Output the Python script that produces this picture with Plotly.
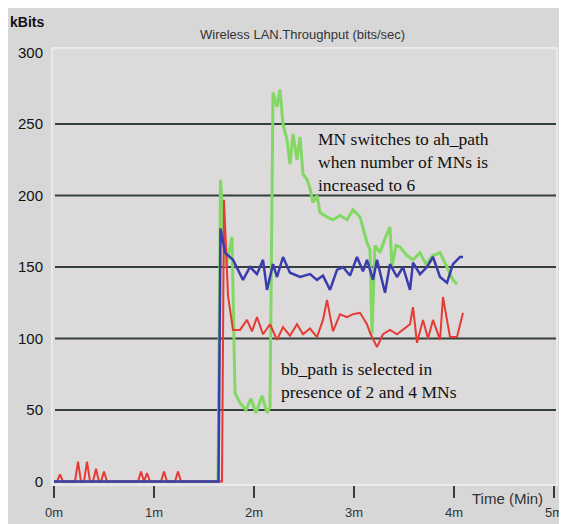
import plotly.graph_objects as go

# ---------------- data (time in minutes, throughput in kBits) ----------------
green_t = [0.00, 1.64, 1.665, 1.72, 1.78, 1.81, 1.86, 1.92, 1.97, 2.02, 2.08, 2.13, 2.16,
           2.19, 2.23, 2.26, 2.29, 2.33, 2.36, 2.39, 2.43, 2.46, 2.49, 2.53, 2.56, 2.59,
           2.63, 2.66, 2.73, 2.79, 2.86, 2.93, 2.99, 3.06, 3.13, 3.16, 3.18, 3.21, 3.26,
           3.31, 3.36, 3.38, 3.42, 3.46, 3.53, 3.59, 3.66, 3.72, 3.79, 3.86, 3.93, 3.99, 4.03]
green_v = [0, 0, 211, 150, 171, 62, 55, 50, 58, 48, 60, 48, 52,
           272, 262, 274, 250, 239, 222, 243, 225, 241, 215, 211, 205, 195,
           200, 188, 185, 183, 186, 183, 190, 185, 167, 162, 103, 165, 160,
           170, 178, 150, 165, 164, 158, 155, 160, 152, 158, 160, 150, 141, 138]

red_t = [0.00, 0.03, 0.06, 0.09, 0.21, 0.24, 0.27, 0.30, 0.33, 0.36, 0.39, 0.42, 0.45,
         0.47, 0.50, 0.53, 0.84, 0.87, 0.90, 0.93, 0.96, 1.07, 1.10, 1.13, 1.21, 1.24,
         1.27, 1.68,
         1.70, 1.74, 1.79, 1.86, 1.93, 1.98, 2.03, 2.09, 2.16, 2.23, 2.29, 2.36, 2.43,
         2.49, 2.56, 2.63, 2.69, 2.73, 2.79, 2.86, 2.93, 2.99, 3.06, 3.13, 3.16, 3.23,
         3.29, 3.36, 3.43, 3.49, 3.56, 3.59, 3.63, 3.69, 3.74, 3.79, 3.86, 3.89, 3.96,
         4.03, 4.09]
red_v = [0, 0, 5, 0, 0, 14, 0, 0, 14, 0, 0, 9, 0,
         0, 7, 0, 0, 7, 0, 6, 0, 0, 7, 0, 0, 7,
         0, 0,
         197, 130, 106, 106, 113, 105, 115, 103, 110, 99, 108, 102, 110,
         103, 107, 101, 113, 127, 105, 117, 115, 117, 118, 110, 104, 94,
         103, 106, 103, 106, 110, 122, 97, 113, 100, 113, 99, 129, 101,
         101, 118]

blue_t = [0.00, 1.645, 1.665, 1.71, 1.79, 1.89, 1.96, 2.03, 2.09, 2.13, 2.19, 2.23, 2.29,
          2.36, 2.46, 2.56, 2.63, 2.69, 2.76, 2.83, 2.89, 2.96, 3.03, 3.09, 3.13, 3.19,
          3.23, 3.31, 3.36, 3.43, 3.49, 3.56, 3.59, 3.66, 3.73, 3.79, 3.86, 3.93, 3.99,
          4.06, 4.09]
blue_v = [0, 0, 177, 160, 155, 141, 150, 145, 155, 134, 152, 143, 157,
          146, 143, 145, 141, 144, 134, 148, 150, 144, 157, 147, 155, 141,
          155, 132, 152, 143, 150, 134, 153, 145, 150, 157, 143, 139, 152,
          157, 157]

y_ticks = [0, 50, 100, 150, 200, 250, 300]
x_ticks = [0, 1, 2, 3, 4, 5]
x_tick_labels = ["0m", "1m", "2m", "3m", "4m", "5m"]
grid_values = [50, 100, 150, 200, 250]

title_text = "Wireless LAN.Throughput (bits/sec)"
note_top = "MN switches to ah_path<br>when number of MNs is<br>increased to 6"
note_bottom = "bb_path is selected in<br>presence of 2 and 4 MNs"

# ---------------- figure ----------------
fig = go.Figure()
fig.add_trace(go.Scatter(x=green_t, y=green_v, mode="lines",
                         line=dict(color="#82d862", width=3), showlegend=False))
fig.add_trace(go.Scatter(x=red_t, y=red_v, mode="lines",
                         line=dict(color="#e43b35", width=2), showlegend=False))
fig.add_trace(go.Scatter(x=blue_t, y=blue_v, mode="lines",
                         line=dict(color="#3a3cae", width=2.5), showlegend=False))

shapes = []
for g in grid_values:
    shapes.append(dict(type="line", xref="paper", yref="y", x0=0.006, x1=1, y0=g, y1=g,
                       line=dict(color="#34403e", width=2), layer="below"))
# light plot frame
shapes.append(dict(type="rect", xref="paper", yref="paper", x0=0, x1=1, y0=0, y1=1,
                   line=dict(color="#ebe9e9", width=2), layer="below"))
fig.update_layout(shapes=shapes)

# page body has an 8px margin, so the figure is sized/offset to fill the window
fig.update_layout(
    width=559, height=516,
    margin=dict(l=44, r=10, t=40, b=39),
    paper_bgcolor="#d8d7d7",
    plot_bgcolor="#dcdada",
    font=dict(family="Liberation Sans, Arial, sans-serif", color="#222"),
    showlegend=False,
)

fig.update_xaxes(range=[-0.02, 5.03], tickvals=x_ticks, ticktext=x_tick_labels,
                 showgrid=False, zeroline=False, showline=False, automargin=False,
                 ticks="outside", ticklen=12, tickwidth=2, tickcolor="#3a3a3a",
                 ticklabelstandoff=3,
                 tickfont=dict(size=13, color="#333"))
fig.update_yaxes(range=[-2.4, 303.1], tickvals=y_ticks, automargin=False,
                 showgrid=False, zeroline=False, showline=False, ticks="",
                 ticklabelstandoff=8,
                 tickfont=dict(size=15, color="#111"))

fig.add_annotation(text=title_text, xref="paper", yref="paper", x=0.497, y=1.032,
                   showarrow=False, font=dict(size=13, color="#333"),
                   xanchor="center", yanchor="middle")
fig.add_annotation(text="<b>kBits</b>", xref="paper", yref="paper", x=-0.087, y=1.06,
                   showarrow=False, font=dict(size=14, color="#111"),
                   xanchor="left", yanchor="middle")
fig.add_annotation(text="Time (Min)", xref="x", yref="paper", x=4.53, y=-0.03,
                   showarrow=False, font=dict(size=15, color="#333"),
                   xanchor="center", yanchor="middle")
fig.add_annotation(text=note_top, xref="x", yref="y", x=2.62, y=248,
                   showarrow=False, align="left", xanchor="left", yanchor="top",
                   font=dict(size=17.5, color="#111",
                             family="Liberation Serif, Times New Roman, serif"))
fig.add_annotation(text=note_bottom, xref="x", yref="y", x=2.25, y=87,
                   showarrow=False, align="left", xanchor="left", yanchor="top",
                   font=dict(size=17.5, color="#111",
                             family="Liberation Serif, Times New Roman, serif"))

fig.write_html("out.html")
